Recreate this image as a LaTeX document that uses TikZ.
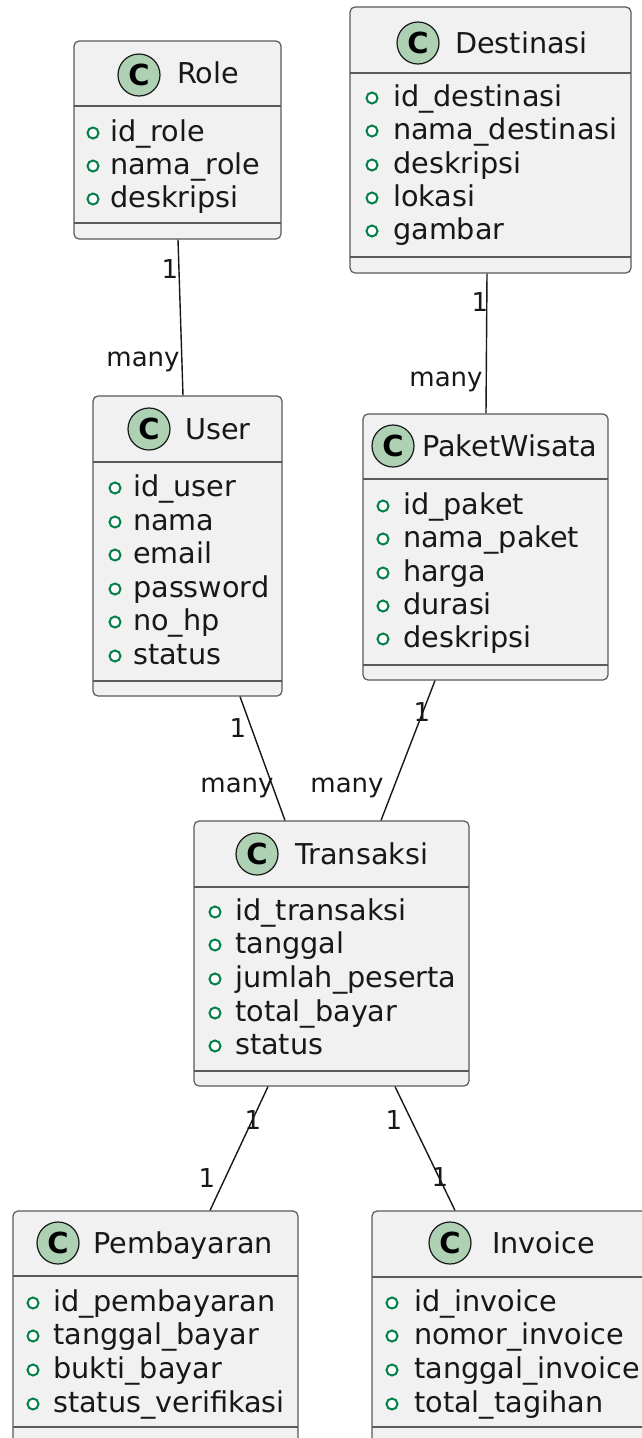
\documentclass[tikz,border=0pt]{standalone}
\usepackage{fontspec}
\setmainfont{DejaVu Sans}
\usetikzlibrary{calc}
\definecolor{boxfill}{HTML}{F1F1F1}
\definecolor{boxline}{HTML}{5A5A5A}
\definecolor{circfill}{HTML}{ADD1B2}
\definecolor{bulletc}{HTML}{038048}
\definecolor{ink}{HTML}{181818}
\tikzset{
 classbox/.style={draw=boxline, fill=boxfill, line width=1.2pt, rounded corners=5pt, inner sep=0pt},
 divider/.style={draw=boxline, line width=1.2pt},
 cmark/.style={circle, draw=ink, fill=circfill, line width=1.2pt, minimum size=42pt, inner sep=0pt, font=\fontsize{29}{29}\selectfont\bfseries, text=black},
 ctitle/.style={anchor=base west, inner sep=0pt, font=\fontsize{28.7}{33}\selectfont, text=ink},
 attrtext/.style={anchor=base west, inner sep=0pt, font=\fontsize{28.7}{33}\selectfont, text=ink},
 bulletmark/.style={circle, draw=bulletc, fill=white, line width=2pt, minimum size=11pt, inner sep=0pt},
 link/.style={draw=ink, line width=1.4pt},
 mult/.style={inner sep=0pt, font=\fontsize{26}{30}\selectfont, text=ink},
}
\newcommand\mkclass[7]{%
 \pgfmathsetmacro\mkW{#4-#2}\pgfmathsetmacro\mkH{#5-#3}%
 \pgfmathsetmacro\mkX{(#2+#4)/2}\pgfmathsetmacro\mkY{(#3+#5)/2}%
 \node[classbox, minimum width=\mkW pt, minimum height=\mkH pt] (#1) at (\mkX,\mkY) {};
 \draw[divider] (#2,#6) -- (#4,#6);
 \draw[divider] (#2,#7) -- (#4,#7);
}
\newcommand\mktitle[6]{%
 \node[cmark] (#1-c) at (#2,#3) {C};
 \node[ctitle] (#1-t) at (#4,{#5+10}) {#6};
}
\newcommand\mkattr[5]{%
 \node[bulletmark] (#1-b) at (#2,{#4+1}) {};
 \node[attrtext] (#1) at (#3,{#4+9}) {#5};
}
\begin{document}
\begin{tikzpicture}[x=1pt,y=-1pt]
\useasboundingbox (0,0) rectangle (642,1438);
\fill[white] (0,0) rectangle (642,1438);
\clip (0,0) rectangle (642,1438);

% Role
\mkclass{role}{74}{41}{281}{239}{106}{223}
\mktitle{role}{139}{75}{177}{73}{Role}
\mkattr{role-a1}{93}{110}{132}{id\_role}
\mkattr{role-a2}{93}{110}{165}{nama\_role}
\mkattr{role-a3}{93}{110}{198}{deskripsi}

% Destinasi
\mkclass{dest}{350}{7}{631}{273}{73}{257}
\mktitle{dest}{418}{43}{455}{43}{Destinasi}
\mkattr{dest-a1}{372}{393}{97}{id\_destinasi}
\mkattr{dest-a2}{372}{393}{130}{nama\_destinasi}
\mkattr{dest-a3}{372}{393}{164}{deskripsi}
\mkattr{dest-a4}{372}{393}{197}{lokasi}
\mkattr{dest-a5}{372}{393}{230}{gambar}

% User
\mkclass{user}{93}{396}{282}{696}{462}{681}
\mktitle{user}{149}{429}{185}{429}{User}
\mkattr{user-a1}{115}{133}{487}{id\_user}
\mkattr{user-a2}{115}{133}{521}{nama}
\mkattr{user-a3}{115}{133}{554}{email}
\mkattr{user-a4}{115}{133}{588}{password}
\mkattr{user-a5}{115}{133}{621}{no\_hp}
\mkattr{user-a6}{115}{133}{655}{status}

% PaketWisata
\mkclass{paket}{363}{414}{608}{680}{479}{665}
\mktitle{paket}{393}{446}{422}{446}{PaketWisata}
\mkattr{paket-a1}{383}{403}{505}{id\_paket}
\mkattr{paket-a2}{383}{403}{538}{nama\_paket}
\mkattr{paket-a3}{383}{403}{572}{harga}
\mkattr{paket-a4}{383}{403}{605}{durasi}
\mkattr{paket-a5}{383}{403}{638}{deskripsi}

% Transaksi
\mkclass{trans}{194}{821}{469}{1086}{887}{1071}
\mktitle{trans}{257}{854}{295}{854}{Transaksi}
\mkattr{trans-a1}{215}{235}{911}{id\_transaksi}
\mkattr{trans-a2}{215}{235}{944}{tanggal}
\mkattr{trans-a3}{215}{235}{978}{jumlah\_peserta}
\mkattr{trans-a4}{215}{235}{1012}{total\_bayar}
\mkattr{trans-a5}{215}{235}{1045}{status}

% Pembayaran
\mkclass{pemb}{13}{1211}{298}{1443}{1276}{1427}
\mktitle{pemb}{58}{1243}{93}{1243}{Pembayaran}
\mkattr{pemb-a1}{33}{53}{1302}{id\_pembayaran}
\mkattr{pemb-a2}{33}{53}{1335}{tanggal\_bayar}
\mkattr{pemb-a3}{33}{53}{1369}{bukti\_bayar}
\mkattr{pemb-a4}{33}{53}{1403}{status\_verifikasi}

% Invoice
\mkclass{inv}{372}{1211}{651}{1443}{1277}{1427}
\mktitle{inv}{450}{1243}{492}{1243}{Invoice}
\mkattr{inv-a1}{392}{414}{1302}{id\_invoice}
\mkattr{inv-a2}{392}{414}{1335}{nomor\_invoice}
\mkattr{inv-a3}{392}{414}{1369}{tanggal\_invoice}
\mkattr{inv-a4}{392}{414}{1403}{total\_tagihan}

% connectors
\draw[link] ([xshift=0.5pt]role.south) -- ([xshift=-4.5pt]user.north);
\draw[link] ([xshift=-3.5pt]dest.south) -- ([xshift=0.5pt]paket.north);
\draw[link] ([xshift=52.5pt]user.south) -- ([xshift=-46.5pt]trans.north);
\draw[link] ([xshift=-50.5pt]paket.south) -- ([xshift=49.5pt]trans.north);
\draw[link] ([xshift=-63.5pt]trans.south) -- ([xshift=54.5pt]pemb.north);
\draw[link] ([xshift=63.5pt]trans.south) -- ([xshift=-56.5pt]inv.north);

% multiplicities
\node[mult] (m1) at (170,269) {1};
\node[mult] (m2) at (143,362) {many};
\node[mult] (m3) at (480,302) {1};
\node[mult] (m4) at (446,382) {many};
\node[mult] (m5) at (238,728) {1};
\node[mult] (m6) at (237,788) {many};
\node[mult] (m7) at (422,712) {1};
\node[mult] (m8) at (347,788) {many};
\node[mult] (m9) at (253,1120) {1};
\node[mult] (m10) at (207,1178) {1};
\node[mult] (m11) at (394,1120) {1};
\node[mult] (m12) at (440,1177) {1};
\end{tikzpicture}
\end{document}
